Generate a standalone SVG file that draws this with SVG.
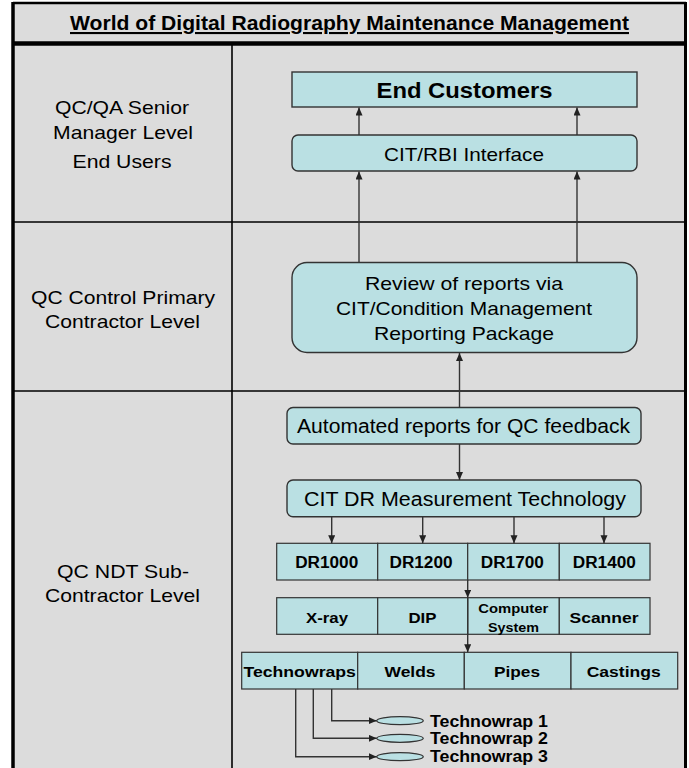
<svg xmlns="http://www.w3.org/2000/svg" width="689" height="768" viewBox="0 0 689 768">
<defs>
<style>
text{font-family:"Liberation Sans",Arial,sans-serif;fill:#000;text-anchor:middle}
.b{font-weight:bold}
.lbl{font-size:19px}
.node{fill:#bae0e3;stroke:#333;stroke-width:1.4}
.cell{fill:#bae0e3;stroke:#333;stroke-width:1.2}
.conn{fill:none;stroke:#333;stroke-width:1.4}
.frame{fill:none;stroke:#000}
</style>
<marker id="ah" markerUnits="userSpaceOnUse" markerWidth="9" markerHeight="8" refX="8" refY="3.5" orient="auto">
<path d="M0,0 L8,3.5 L0,7 z" fill="#222"/>
</marker>
</defs>
<rect x="0" y="0" width="689" height="768" fill="#fff"/>
<rect x="13" y="3" width="673" height="765" fill="#dcdcdc"/>
<g id="frame">
<line class="frame" x1="13" y1="3" x2="686" y2="3" stroke-width="2.5"/>
<line class="frame" x1="13" y1="2" x2="13" y2="768" stroke-width="3.5"/>
<line class="frame" x1="685.5" y1="2" x2="685.5" y2="768" stroke-width="3"/>
<line class="frame" x1="13" y1="43.5" x2="686" y2="43.5" stroke-width="4.5"/>
<line class="frame" x1="232" y1="45" x2="232" y2="768" stroke-width="1.6" stroke="#222"/>
<line class="frame" x1="13" y1="222" x2="686" y2="222" stroke-width="1.6" stroke="#222"/>
<line class="frame" x1="13" y1="391" x2="686" y2="391" stroke-width="1.6" stroke="#222"/>
</g>
<g id="title">
<text x="349.5" y="30" class="b" font-size="21" text-decoration="underline" textLength="559" lengthAdjust="spacingAndGlyphs">World of Digital Radiography Maintenance Management</text>
</g>
<g id="level-senior">
<text class="lbl" x="122" y="114" textLength="134" lengthAdjust="spacingAndGlyphs">QC/QA Senior</text>
<text class="lbl" x="123" y="139" textLength="140" lengthAdjust="spacingAndGlyphs">Manager Level</text>
<text class="lbl" x="122" y="168" textLength="99" lengthAdjust="spacingAndGlyphs">End Users</text>
</g>
<g id="level-primary">
<text class="lbl" x="123" y="304" textLength="184" lengthAdjust="spacingAndGlyphs">QC Control Primary</text>
<text class="lbl" x="122.5" y="328" textLength="155" lengthAdjust="spacingAndGlyphs">Contractor Level</text>
</g>
<g id="level-sub">
<text class="lbl" x="123" y="578" textLength="132" lengthAdjust="spacingAndGlyphs">QC NDT Sub-</text>
<text class="lbl" x="122.5" y="602" textLength="155" lengthAdjust="spacingAndGlyphs">Contractor Level</text>
</g>
<g id="end-customers">
<rect class="node" x="292" y="72" width="345" height="35"/>
<text x="464.5" y="97.5" class="b" font-size="22" textLength="176" lengthAdjust="spacingAndGlyphs">End Customers</text>
</g>
<g id="cit-rbi">
<rect class="node" x="292" y="135" width="345" height="36" rx="6"/>
<text x="464" y="160.5" font-size="18.5" textLength="160" lengthAdjust="spacingAndGlyphs">CIT/RBI Interface</text>
</g>
<g id="review">
<rect class="node" x="292" y="262.5" width="345" height="90" rx="15"/>
<text x="464" y="290" font-size="18.5" textLength="198" lengthAdjust="spacingAndGlyphs">Review of reports via</text>
<text x="464" y="315" font-size="18.5" textLength="256" lengthAdjust="spacingAndGlyphs">CIT/Condition Management</text>
<text x="464" y="340" font-size="18.5" textLength="180" lengthAdjust="spacingAndGlyphs">Reporting Package</text>
</g>
<g id="automated">
<rect class="node" x="287" y="407.5" width="354" height="36.5" rx="6"/>
<text x="463.5" y="433.3" font-size="20" textLength="333" lengthAdjust="spacingAndGlyphs">Automated reports for QC feedback</text>
</g>
<g id="cit-dr">
<rect class="node" x="287" y="480" width="354" height="36.7" rx="6"/>
<text x="465" y="505.7" font-size="20" textLength="322" lengthAdjust="spacingAndGlyphs">CIT DR Measurement Technology</text>
</g>
<g id="dr-models">
<rect class="cell" x="276.7" y="543.3" width="101" height="36.7"/>
<rect class="cell" x="377.7" y="543.3" width="90" height="36.7"/>
<rect class="cell" x="467.7" y="543.3" width="91.6" height="36.7"/>
<rect class="cell" x="559.3" y="543.3" width="90.7" height="36.7"/>
<text class="b" x="326.7" y="568.3" font-size="16" textLength="63" lengthAdjust="spacingAndGlyphs">DR1000</text>
<text class="b" x="421" y="568.3" font-size="16" textLength="63" lengthAdjust="spacingAndGlyphs">DR1200</text>
<text class="b" x="512.3" y="568.3" font-size="16" textLength="63" lengthAdjust="spacingAndGlyphs">DR1700</text>
<text class="b" x="604.3" y="568.3" font-size="16" textLength="63" lengthAdjust="spacingAndGlyphs">DR1400</text>
</g>
<g id="components">
<rect class="cell" x="276.7" y="597.7" width="101" height="36.6"/>
<rect class="cell" x="377.7" y="597.7" width="90" height="36.6"/>
<rect class="cell" x="467.7" y="597.7" width="91.6" height="36.6"/>
<rect class="cell" x="559.3" y="597.7" width="90.7" height="36.6"/>
<text class="b" x="327" y="623.3" font-size="15" textLength="42" lengthAdjust="spacingAndGlyphs">X-ray</text>
<text class="b" x="422.5" y="623.3" font-size="15" textLength="28" lengthAdjust="spacingAndGlyphs">DIP</text>
<text class="b" x="513.3" y="612.5" font-size="13" textLength="70" lengthAdjust="spacingAndGlyphs">Computer</text>
<text class="b" x="513.5" y="631.5" font-size="13" textLength="51" lengthAdjust="spacingAndGlyphs">System</text>
<text class="b" x="604" y="623.3" font-size="15" textLength="69" lengthAdjust="spacingAndGlyphs">Scanner</text>
</g>
<g id="applications">
<rect class="cell" x="241.7" y="652.3" width="116" height="36.7"/>
<rect class="cell" x="357.7" y="652.3" width="106.6" height="36.7"/>
<rect class="cell" x="464.3" y="652.3" width="106.7" height="36.7"/>
<rect class="cell" x="571" y="652.3" width="106.7" height="36.7"/>
<text class="b" x="299.7" y="676.7" font-size="15.5" textLength="112.5" lengthAdjust="spacingAndGlyphs">Technowraps</text>
<text class="b" x="410" y="676.7" font-size="15.5" textLength="51" lengthAdjust="spacingAndGlyphs">Welds</text>
<text class="b" x="517" y="676.7" font-size="15.5" textLength="46" lengthAdjust="spacingAndGlyphs">Pipes</text>
<text class="b" x="623.7" y="676.7" font-size="15.5" textLength="74" lengthAdjust="spacingAndGlyphs">Castings</text>
</g>
<g id="technowrap-1">
<ellipse class="cell" cx="400" cy="720.7" rx="23.3" ry="4"/>
<text class="b" x="430" y="726.7" font-size="17" style="text-anchor:start" textLength="118" lengthAdjust="spacingAndGlyphs">Technowrap 1</text>
</g>
<g id="technowrap-2">
<ellipse class="cell" cx="400" cy="738.3" rx="23.3" ry="4"/>
<text class="b" x="430" y="744.3" font-size="17" style="text-anchor:start" textLength="118" lengthAdjust="spacingAndGlyphs">Technowrap 2</text>
</g>
<g id="technowrap-3">
<ellipse class="cell" cx="400" cy="756.7" rx="23.3" ry="4"/>
<text class="b" x="430" y="762.3" font-size="17" style="text-anchor:start" textLength="118" lengthAdjust="spacingAndGlyphs">Technowrap 3</text>
</g>
<g id="connectors">
<line class="conn" x1="359" y1="135" x2="359" y2="107.5" marker-end="url(#ah)"/>
<line class="conn" x1="577" y1="135" x2="577" y2="107.5" marker-end="url(#ah)"/>
<line class="conn" x1="359" y1="262.5" x2="359" y2="171.5" marker-end="url(#ah)"/>
<line class="conn" x1="577" y1="262.5" x2="577" y2="171.5" marker-end="url(#ah)"/>
<line class="conn" x1="459.5" y1="407.5" x2="459.5" y2="353" marker-end="url(#ah)"/>
<line class="conn" x1="459.5" y1="444" x2="459.5" y2="480" marker-end="url(#ah)"/>
<line class="conn" x1="331.7" y1="516.7" x2="331.7" y2="543.3" marker-end="url(#ah)"/>
<line class="conn" x1="422.7" y1="516.7" x2="422.7" y2="543.3" marker-end="url(#ah)"/>
<line class="conn" x1="514" y1="516.7" x2="514" y2="543.3" marker-end="url(#ah)"/>
<line class="conn" x1="604" y1="516.7" x2="604" y2="543.3" marker-end="url(#ah)"/>
<line class="conn" x1="467.7" y1="580" x2="467.7" y2="597.7" marker-end="url(#ah)"/>
<line class="conn" x1="467.7" y1="597.7" x2="467.7" y2="652.3" marker-end="url(#ah)"/>
<path class="conn" d="M331.7,689 V720.7 H376.7" marker-end="url(#ah)"/>
<path class="conn" d="M313.3,689 V738.3 H376.7" marker-end="url(#ah)"/>
<path class="conn" d="M295.7,689 V756.7 H376.7" marker-end="url(#ah)"/>
</g>
</svg>
